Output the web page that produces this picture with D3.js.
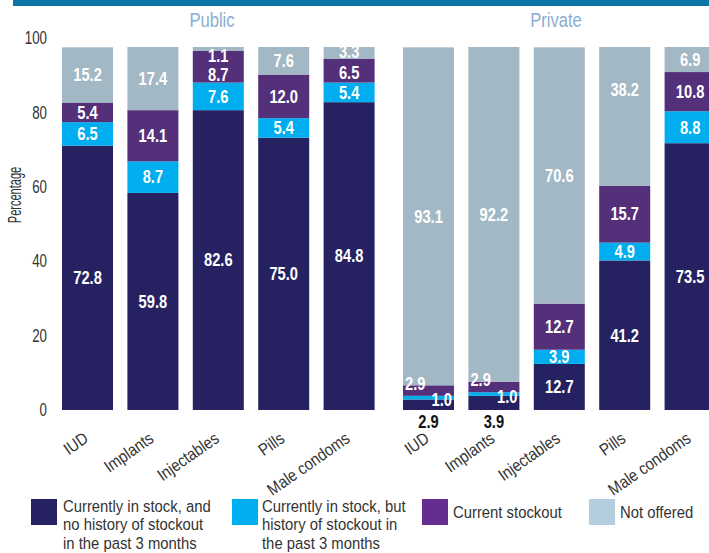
<!DOCTYPE html>
<html>
<head>
<meta charset="utf-8">
<script src="https://cdnjs.cloudflare.com/ajax/libs/d3/7.8.5/d3.min.js"></script>
<style>
  html, body { margin: 0; padding: 0; background: #fff; }
  svg { display: block; }
  text { font-family: "Liberation Sans", Arial, sans-serif; }
</style>
</head>
<body>
<svg id="chart" width="709" height="553"></svg>
<script>
// ---------- data ----------
const categories = ["IUD", "Implants", "Injectables", "Pills", "Male condoms"];
const groups = ["Public", "Private"];
const seriesKeys = ["inStock", "history", "stockout", "notOffered"];
const seriesLabels = [
  ["Currently in stock, and", "no history of stockout", "in the past 3 months"],
  ["Currently in stock, but", "history of stockout in", "the past 3 months"],
  ["Current stockout"],
  ["Not offered"]
];
const publicInStock    = [72.8, 59.8, 82.6, 75.0, 84.8];
const publicHistory    = [6.5, 8.7, 7.6, 5.4, 5.4];
const publicStockout   = [5.4, 14.1, 8.7, 12.0, 6.5];
const publicNotOffered = [15.2, 17.4, 1.1, 7.6, 3.3];
const privateInStock    = [2.9, 3.9, 12.7, 41.2, 73.5];
const privateHistory    = [1.0, 1.0, 3.9, 4.9, 8.8];
const privateStockout   = [2.9, 2.9, 12.7, 15.7, 10.8];
const privateNotOffered = [93.1, 92.2, 70.6, 38.2, 6.9];
const yTicks = [0, 20, 40, 60, 80, 100];

// ---------- styles ----------
const barColors = ["#262262", "#00aeef", "#55307a", "#a3b8c5"];
const legendColors = ["#262262", "#00aeef", "#662d91", "#b5cedf"];
const textColor = "#333";

const svg = d3.select("#chart");
const W = 709;

// condensed-looking text: Liberation Sans scaled horizontally
function ctext(parent, x, y, str, opts) {
  const sx = opts.sx || 0.85;
  const t = parent.append("text")
    .attr("transform", `translate(${x},${y}) scale(${sx},1)`)
    .attr("text-anchor", opts.anchor || "start")
    .attr("font-size", opts.size || 16)
    .attr("fill", opts.fill || textColor);
  if (opts.weight) t.attr("font-weight", opts.weight);
  if (opts.dy) t.attr("dy", opts.dy);
  t.text(str);
  return t;
}

// top rule
svg.append("rect").attr("x", 13).attr("y", 0).attr("width", W - 13).attr("height", 6).attr("fill", "#0b75a8");

// scales
const y = d3.scaleLinear().domain([0, 100]).range([410, 47]);
const yAxisScale = d3.scaleLinear().domain([0, 100]).range([410, 38]);
const xScales = {
  Public: d3.scaleBand().domain(categories).range([54.8, 381.8]).paddingInner(0.22).paddingOuter(0.11),
  Private: d3.scaleBand().domain(categories).range([395.8, 722.8]).paddingInner(0.22).paddingOuter(0.11)
};

function rows(a, b, c, d) {
  return categories.map((cat, i) => ({ cat, inStock: a[i], history: b[i], stockout: c[i], notOffered: d[i] }));
}
const dataByGroup = {
  Public: rows(publicInStock, publicHistory, publicStockout, publicNotOffered),
  Private: rows(privateInStock, privateHistory, privateStockout, privateNotOffered)
};

const stack = d3.stack().keys(seriesKeys);

// y axis (labels only)
const yAxis = d3.axisLeft(yAxisScale).tickValues(yTicks).tickSize(0).tickPadding(0);
const gy = svg.append("g").attr("transform", "translate(47,0)").call(yAxis);
gy.select(".domain").remove();
gy.selectAll("text")
  .attr("font-family", '"Liberation Sans", Arial, sans-serif')
  .attr("font-size", 18).attr("fill", textColor)
  .attr("transform", "scale(0.74,1)");

svg.append("text")
  .attr("transform", "translate(21,195) rotate(-90) scale(0.63,1)")
  .attr("text-anchor", "middle")
  .attr("font-size", 17.5).attr("fill", textColor)
  .text("Percentage");

// label placement tweaks (style, by group/category/series index)
function labelPos(group, ci, si, seg, x) {
  const bw = x.bandwidth();
  const x0 = x(categories[ci]);
  let cx = x0 + bw / 2;
  let cy = (y(seg[0]) + y(seg[1])) / 2;
  let anchor = "middle";
  let fill = "#fff";
  if (group === "Public" && ci === 2 && si === 3) { cy = y(seg[1]) + 9; }
  if (group === "Public" && ci === 2 && si === 2) { cy += 8; }
  if (group === "Public" && ci === 4 && si === 2) { cy += 2; }
  if (group === "Public" && ci === 4 && si === 3) { cy -= 1; }
  if (group === "Private" && ci <= 1) {
    if (si === 0) { cy = y(0) + 12; fill = "#111"; }
    if (si === 1) { cx = x0 + bw - 2; anchor = "end"; cy = y(seg[1]) + 4; }
    if (si === 2) { cx = x0 + 2; anchor = "start"; cy = y(seg[1]) - 2; }
  }
  if (group === "Private" && ci === 3 && si === 3) { cy = y(seg[1]) + 43; }
  return { cx, cy, anchor, fill };
}

groups.forEach(group => {
  const x = xScales[group];
  const series = stack(dataByGroup[group]);
  const g = svg.append("g");

  series.forEach((s, si) => {
    g.selectAll(null).data(s).enter().append("rect")
      .attr("x", d => x(d.data.cat))
      .attr("width", x.bandwidth())
      .attr("y", d => y(d[1]))
      .attr("height", d => y(d[0]) - y(d[1]))
      .attr("fill", barColors[si]);
  });

  series.forEach((s, si) => {
    s.forEach((seg, ci) => {
      const p = labelPos(group, ci, si, seg, x);
      ctext(g, p.cx, p.cy, seg.data[seriesKeys[si]].toFixed(1), {
        sx: 0.84, anchor: p.anchor, size: 17.5, weight: "bold", fill: p.fill, dy: "0.36em"
      });
    });
  });

  // group title
  ctext(svg, group === "Public" ? 212 : 556, 27, group, { sx: 0.85, anchor: "middle", size: 19.5, fill: "#8aaed0" });

  // x axis labels
  const xAxis = d3.axisBottom(x).tickSize(0).tickPadding(0);
  const gx = svg.append("g").attr("transform", "translate(0,410)").call(xAxis);
  gx.select(".domain").remove();
  gx.selectAll(".tick text")
    .attr("font-family", '"Liberation Sans", Arial, sans-serif')
    .attr("font-size", 17).attr("fill", textColor)
    .attr("text-anchor", "end")
    .attr("dy", 0)
    .attr("y", 0)
    .attr("transform", "translate(2,31) rotate(-35) scale(0.87,1)");
});

// legend
const legendItems = [
  { sx: 31, tx: 63 },
  { sx: 232, tx: 262 },
  { sx: 422, tx: 453 },
  { sx: 589, tx: 620 }
];
legendItems.forEach((it, i) => {
  svg.append("rect").attr("x", it.sx).attr("y", 499).attr("width", 26).attr("height", 26).attr("fill", legendColors[i]);
  const lines = seriesLabels[i];
  const baseY = lines.length > 1 ? 512 : 518;
  lines.forEach((ln, li) => {
    ctext(svg, it.tx, baseY + li * 18.3, ln, { sx: 0.9, size: 16.5 });
  });
});
</script>
</body>
</html>
